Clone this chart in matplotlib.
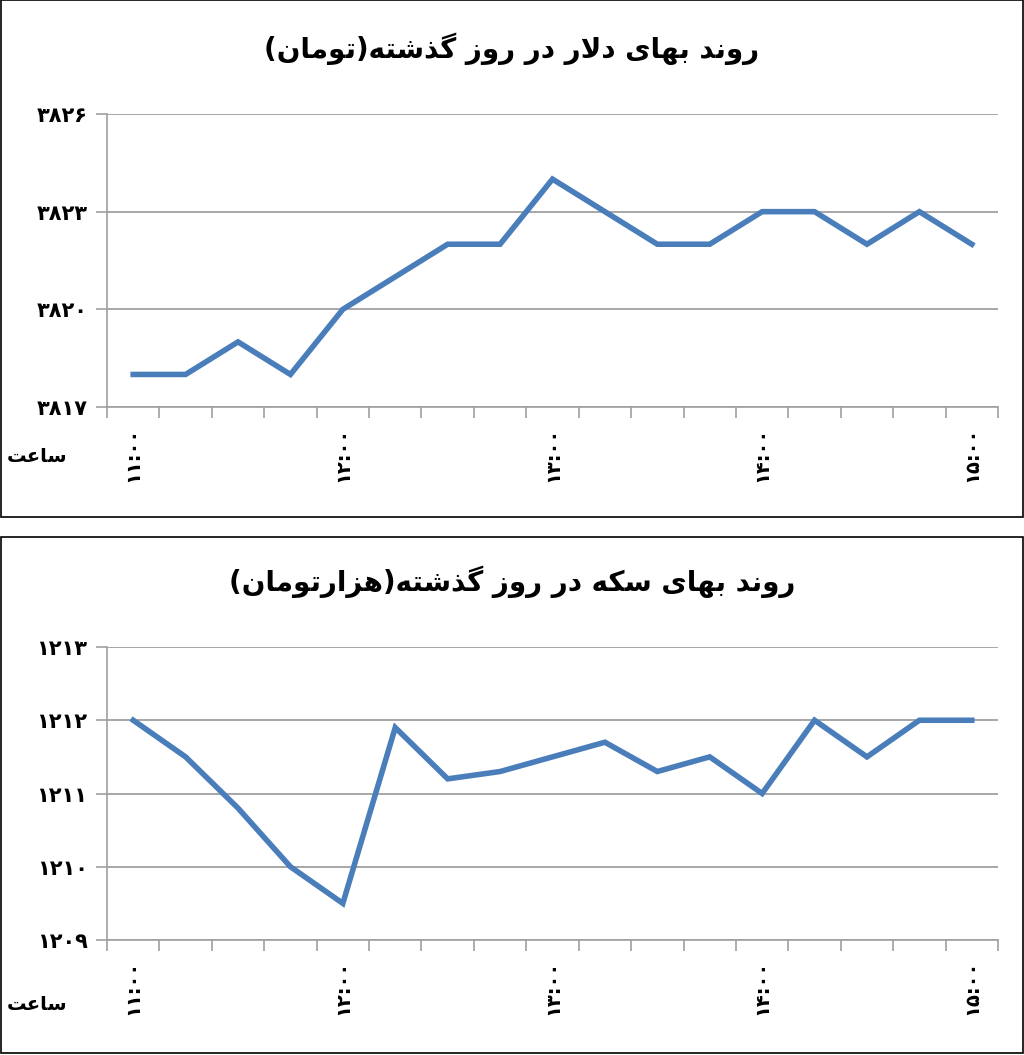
import matplotlib.pyplot as plt
from matplotlib.patches import Rectangle

# data
times = ['۱۱:۰۰', '۱۲:۰۰', '۱۳:۰۰', '۱۴:۰۰', '۱۵:۰۰']
dollar = [3818, 3818, 3819, 3818, 3820, 3821, 3822, 3822, 3824, 3823, 3822, 3822, 3823, 3823, 3822, 3823, 3822]
coin = [1212, 1211.5, 1210.8, 1210, 1209.5, 1211.9, 1211.2, 1211.3, 1211.5, 1211.7, 1211.3, 1211.5, 1211, 1212, 1211.5, 1212, 1212]
dollar_ticks = [3817, 3820, 3823, 3826]
coin_ticks = [1209, 1210, 1211, 1212, 1213]

# minimal arabic shaping: isolated, final, initial, medial
FORMS = {
    'ا': (0xFE8D, 0xFE8E, None, None), 'ب': (0xFE8F, 0xFE90, 0xFE91, 0xFE92),
    'ت': (0xFE95, 0xFE96, 0xFE97, 0xFE98), 'د': (0xFEA9, 0xFEAA, None, None),
    'ذ': (0xFEAB, 0xFEAC, None, None), 'ر': (0xFEAD, 0xFEAE, None, None),
    'ز': (0xFEAF, 0xFEB0, None, None), 'س': (0xFEB1, 0xFEB2, 0xFEB3, 0xFEB4),
    'ش': (0xFEB5, 0xFEB6, 0xFEB7, 0xFEB8), 'ع': (0xFEC9, 0xFECA, 0xFECB, 0xFECC),
    'ل': (0xFEDD, 0xFEDE, 0xFEDF, 0xFEE0), 'م': (0xFEE1, 0xFEE2, 0xFEE3, 0xFEE4),
    'ن': (0xFEE5, 0xFEE6, 0xFEE7, 0xFEE8), 'ه': (0xFEE9, 0xFEEA, 0xFEEB, 0xFEEC),
    'و': (0xFEED, 0xFEEE, None, None), 'ی': (0xFBFC, 0xFBFD, 0xFBFE, 0xFBFF),
    'ک': (0xFB8E, 0xFB8F, 0xFB90, 0xFB91), 'گ': (0xFB92, 0xFB93, 0xFB94, 0xFB95),
}
MIRROR = {'(': ')', ')': '('}


def shape(text):
    out = []
    chars = list(text)
    i = 0
    while i < len(chars):
        c = chars[i]
        prev = chars[i - 1] if i > 0 else None
        joins_prev = prev in FORMS and FORMS[prev][2] is not None
        if c == 'ل' and i + 1 < len(chars) and chars[i + 1] == 'ا':
            out.append(chr(0xFEFC if joins_prev else 0xFEFB))
            i += 2
            continue
        if c in FORMS:
            iso, fin, ini, med = FORMS[c]
            nxt = chars[i + 1] if i + 1 < len(chars) else None
            joins_next = ini is not None and nxt in FORMS
            if joins_prev and joins_next:
                g = med
            elif joins_prev:
                g = fin
            elif joins_next:
                g = ini
            else:
                g = iso
            out.append(chr(g))
        else:
            out.append(MIRROR.get(c, c))
        i += 1
    return ''.join(reversed(out))


W, H = 1024, 1055
fig = plt.figure(figsize=(W / 100, H / 100), dpi=100)
fam = ['DejaVu Sans']


def panel(top, bottom, ax_top, ax_bottom, values, yticks, title, label_y):
    fig.patches.append(Rectangle((1 / W, 1 - bottom / H), (W - 2) / W, (bottom - top) / H,
                                 transform=fig.transFigure, fill=False, edgecolor='black', lw=1.2))
    ax = fig.add_axes([107 / W, 1 - ax_bottom / H, 891 / W, (ax_bottom - ax_top) / H])
    ax.plot(range(len(values)), values, color='#4a7ebb', lw=4, solid_joinstyle='miter')
    ax.set_xlim(-0.5, len(values) - 0.5)
    ax.set_ylim(yticks[0], yticks[-1])
    ax.set_yticks(yticks)
    ax.set_yticklabels([str(v).translate(str.maketrans('0123456789', '۰۱۲۳۴۵۶۷۸۹')) for v in yticks],
                       fontsize=15, fontweight='bold', family=fam)
    ax.grid(axis='y', color='#a0a0a0', lw=1.3)
    ax.set_xticks([i - 0.5 for i in range(len(values) + 1)])
    ax.set_xticklabels([])
    ax.set_xticks(range(0, len(values), 4), minor=True)
    ax.set_xticklabels(times, minor=True, rotation=90, fontsize=14, fontweight='bold', family=fam)
    ax.tick_params(axis='x', which='major', length=8, color='#a0a0a0', width=1.2)
    ax.tick_params(axis='x', which='minor', length=0, pad=14)
    ax.tick_params(axis='y', length=8, color='#a0a0a0', width=1.2, pad=6)
    for s in ['top', 'right']:
        ax.spines[s].set_visible(False)
    for s in ['left', 'bottom']:
        ax.spines[s].set_color('#a0a0a0')
        ax.spines[s].set_linewidth(1.2)
    ax.set_axisbelow(True)
    fig.text(0.5, 1 - (ax_top - 65) / H, shape(title), ha='center', va='center',
             fontsize=20, fontweight='bold', family=fam)
    fig.text(37 / W, 1 - label_y / H, shape('ساعت'), ha='center', va='center',
             fontsize=14, fontweight='bold', family=fam)
    return ax


panel(0, 517, 114, 407, dollar, dollar_ticks, 'روند بهای دلار در روز گذشته(تومان)', 457)
panel(537, 1053, 647, 940, coin, coin_ticks, 'روند بهای سکه در روز گذشته(هزارتومان)', 1004)

fig.savefig('out.png', dpi=100)
